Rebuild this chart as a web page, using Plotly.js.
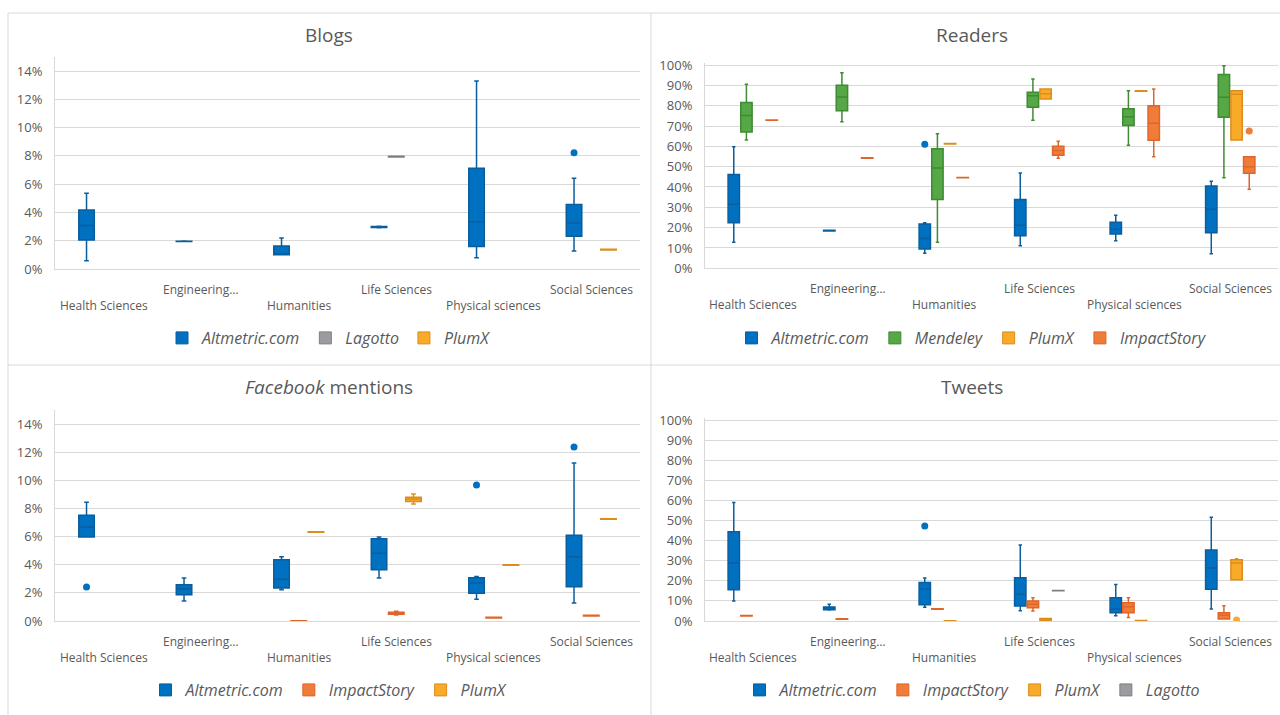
<!DOCTYPE html>
<html><head><meta charset="utf-8">
<script src="https://cdn.plot.ly/plotly-3.0.1.min.js"></script>
<style>html,body{margin:0;padding:0;background:#fff;}#chart{width:1280px;height:715px;}</style>
</head><body><div id="chart"></div>
<script>
// ---------- DATA (values in %) ----------
const categories = ["Health Sciences", "Engineering…", "Humanities", "Life Sciences", "Physical sciences", "Social Sciences"];
const panelTitles = ["Blogs", "Readers", "<i>Facebook</i> mentions", "Tweets"];
// each row: [lower whisker, Q1, median, Q3, upper whisker]; null = no box
// --- Blogs ---
const blogsAltmetric = [[0.59,2.05,3.07,4.18,5.36],[1.94,1.95,1.96,1.97,1.98],[1.0,1.0,1.05,1.63,2.2],[2.92,2.93,2.97,3.01,3.02],[0.8,1.6,3.35,7.13,13.3],[1.28,2.31,3.26,4.56,6.42]];
const blogsAltmetricOut = [[],[],[],[],[],[8.22]];
const blogsLagotto = [null,null,null,[7.93,7.93,7.95,7.97,7.97],null,null];
const blogsPlumX = [null,null,null,null,null,[1.35,1.35,1.37,1.39,1.39]];
// --- Readers ---
const readersAltmetric = [[12.8,22.4,31.5,46.2,59.8],[18.3,18.3,18.5,18.7,18.7],[7.4,9.5,14.6,21.8,22.4],[11.1,16,21.2,33.9,46.9],[13.6,16.9,19.2,22.6,26.1],[7.2,17.5,29,40.5,42.8]];
const readersAltmetricOut = [[],[],[61],[],[],[]];
const readersMendeley = [[63.1,67,75.2,81.6,90.6],[72.1,77.5,84.3,90,96.2],[12.8,33.9,49.3,58.8,66.2],[72.8,79.2,84.9,86.6,93.1],[60.5,70.3,74.6,78.5,87.4],[44.6,74.3,84.1,95.4,99.7]];
const readersPlumX = [null,null,[61.2,61.2,61.3,61.4,61.4],[83.3,83.3,85.9,88.2,88.2],[87.1,87.1,87.2,87.3,87.3],[63.1,63.1,85.6,87.4,87.4]];
const readersImpactStory = [[72.8,72.8,72.9,73,73],[54.2,54.2,54.3,54.4,54.4],[44.5,44.5,44.6,44.7,44.7],[54.1,55.6,57.9,60,62.5],[54.9,63,71.3,80,88.2],[38.9,46.7,50,54.9,54.9]];
const readersImpactStoryOut = [[],[],[],[],[],[67.5]];
// --- Facebook mentions ---
const fbAltmetric = [[5.97,5.97,6.68,7.51,8.44],[1.42,1.87,2.3,2.58,3.06],[2.23,2.35,2.96,4.36,4.57],[3.06,3.65,4.81,5.85,5.97],[1.54,1.97,2.7,3.08,3.17],[1.28,2.44,4.57,6.09,11.23]];
const fbAltmetricOut = [[2.42],[],[],[],[9.67],[12.37]];
const fbImpactStory = [null,null,[0,0,0,0.02,0.02],[0.42,0.48,0.55,0.62,0.7],[0.22,0.22,0.24,0.26,0.26],[0.36,0.36,0.38,0.4,0.4]];
const fbPlumX = [null,null,[6.31,6.31,6.33,6.35,6.35],[8.32,8.5,8.67,8.79,9.03],[3.96,3.96,3.98,4.0,4.0],[7.23,7.23,7.25,7.27,7.27]];
// --- Tweets ---
const twAltmetric = [[10,15.6,28.9,44.4,59],[5.5,5.6,6.5,7,8.3],[6.8,8.1,15.9,19.1,21.4],[5.1,7.5,13.3,21.5,37.8],[2.6,4.1,6,11.6,18.2],[6,15.8,26.4,35.3,51.6]];
const twAltmetricOut = [[],[],[47.3],[],[],[]];
const twImpactStory = [[2.5,2.5,2.6,2.7,2.7],[0.9,0.9,1,1.1,1.1],[5.9,5.9,6,6.1,6.1],[5,6.6,8.3,10,11.6],[1.8,4.1,7.1,9.1,11.6],[1,1,2.8,4.1,7.6]];
const twPlumX = [null,null,[0,0,0,0.1,0.1],[0.3,0.4,0.8,1.2,1.2],[0,0,0.1,0.2,0.2],[20.5,20.5,28.9,30.5,31]];
const twPlumXOut = [[],[],[],[],[],[0.5]];
const twLagotto = [null,null,null,[15,15,15.1,15.2,15.2],null,null];

// ---------- STYLE ----------
const COLORS = {
  Altmetric: {fill:"#0070C0", line:"#0A5E9E"},
  Mendeley: {fill:"#55A845", line:"#3F8A33"},
  PlumX: {fill:"#F8AA28", line:"#DB8E1E"},
  ImpactStory: {fill:"#F07C3A", line:"#E0652A"},
  Lagotto: {fill:"#9A9C9F", line:"#7E8083"}
};
const W = 1280, H = 715;
const fx = px => px / W;
const fy = py => 1 - py / H;
const FONT = "Open Sans, Segoe UI, DejaVu Sans, sans-serif";
const TXT = "#595959";
const GRID = "#D9D9D9";

function boxTrace(name, rows, outliers, ax, slot, legend, color) {
  const x = [], lf = [], q1 = [], med = [], q3 = [], uf = [], pts = [];
  rows.forEach((r, i) => {
    if (!r) return;
    x.push(categories[i]); lf.push(r[0]); q1.push(r[1]); med.push(r[2]); q3.push(r[3]); uf.push(r[4]);
    // sample points per box: outliers only (median placeholder is inside the fences, so never drawn)
    pts.push(outliers && outliers[i] && outliers[i].length ? outliers[i] : [r[2]]);
  });
  const t = {
    type: "box", name: name, x: x, showlegend: false,
    lowerfence: lf, q1: q1, median: med, q3: q3, upperfence: uf,
    orientation: "v", jitter: 0, pointpos: 0,
    alignmentgroup: "panel" + ax, offsetgroup: "s" + slot,
    xaxis: "x" + ax, yaxis: "y" + ax, legend: legend,
    fillcolor: color.fill, line: {color: color.line, width: 1.5},
    marker: {color: color.fill, size: 7, line: {width: 0}},
    whiskerwidth: 0.3, hoverinfo: "skip"
  };
  if (outliers) { t.y = pts; t.boxpoints = "outliers"; } else { t.boxpoints = false; }
  return t;
}
// legend-only square swatch (draws no mark)
function legendKey(name, ax, legend, color) {
  return {type: "scatter", mode: "markers", name: name, x: [null], y: [null],
    xaxis: "x" + ax, yaxis: "y" + ax, legend: legend, showlegend: true, hoverinfo: "skip",
    marker: {symbol: "square", size: 12, color: color.fill, line: {color: color.line, width: 1}}};
}

const panelSeries = [
  {ax:"", legend:"legend", series:[
    ["Altmetric.com", blogsAltmetric, blogsAltmetricOut, COLORS.Altmetric],
    ["Lagotto", blogsLagotto, null, COLORS.Lagotto],
    ["PlumX", blogsPlumX, null, COLORS.PlumX]]},
  {ax:"2", legend:"legend2", series:[
    ["Altmetric.com", readersAltmetric, readersAltmetricOut, COLORS.Altmetric],
    ["Mendeley", readersMendeley, null, COLORS.Mendeley],
    ["PlumX", readersPlumX, null, COLORS.PlumX],
    ["ImpactStory", readersImpactStory, readersImpactStoryOut, COLORS.ImpactStory]]},
  {ax:"3", legend:"legend3", series:[
    ["Altmetric.com", fbAltmetric, fbAltmetricOut, COLORS.Altmetric],
    ["ImpactStory", fbImpactStory, null, COLORS.ImpactStory],
    ["PlumX", fbPlumX, null, COLORS.PlumX]]},
  {ax:"4", legend:"legend4", series:[
    ["Altmetric.com", twAltmetric, twAltmetricOut, COLORS.Altmetric],
    ["ImpactStory", twImpactStory, null, COLORS.ImpactStory],
    ["PlumX", twPlumX, twPlumXOut, COLORS.PlumX],
    ["Lagotto", twLagotto, null, COLORS.Lagotto]]}
];

const traces = [];
panelSeries.forEach(ps => {
  ps.series.forEach((s, j) => traces.push(boxTrace(s[0], s[1], s[2], ps.ax, j, ps.legend, s[3])));
  ps.series.forEach(s => traces.push(legendKey(s[0], ps.ax, ps.legend, s[3])));
});

const panels = [
  {ax:"", xl:55, xr:640, yb:269, yt:57, max:15, dtick:2, cx:329, ty:35, ly:338},
  {ax:"2", xl:705, xr:1278, yb:268.3, yt:63, max:101, dtick:10, cx:972, ty:35, ly:338},
  {ax:"3", xl:55, xr:640, yb:621, yt:410, max:15, dtick:2, cx:329, ty:387, ly:690},
  {ax:"4", xl:705, xr:1278, yb:621, yt:418, max:101, dtick:10, cx:972, ty:387, ly:690}
];

const layout = {
  width: W, height: H,
  margin: {l:0, r:0, t:0, b:0},
  paper_bgcolor: "#fff", plot_bgcolor: "#fff",
  font: {family: FONT, color: TXT},
  boxmode: "group", boxgap: 0.47, boxgroupgap: 0.1,
  hovermode: false, showlegend: true,
  annotations: [], shapes: []
};

panels.forEach((p, k) => {
  const legName = k === 0 ? "legend" : "legend" + (k + 1);
  layout["xaxis" + p.ax] = {
    domain: [fx(p.xl), fx(p.xr)], anchor: "y" + p.ax, type: "category",
    categoryorder: "array", categoryarray: categories, range: [-0.5, 5.5],
    showticklabels: false, showgrid: false, zeroline: false,
    showline: true, linecolor: GRID, linewidth: 1, ticks: "", fixedrange: true
  };
  layout["yaxis" + p.ax] = {
    domain: [fy(p.yb), fy(p.yt)], anchor: "x" + p.ax, range: [0, p.max],
    tick0: 0, dtick: p.dtick, ticksuffix: "%", showgrid: true, gridcolor: GRID, gridwidth: 1,
    zeroline: false, showline: true, linecolor: GRID, linewidth: 1, ticks: "",
    ticklabelstandoff: 9, tickfont: {family: FONT, size: 13, color: TXT}, fixedrange: true
  };
  layout[legName] = {
    orientation: "h", x: fx(p.cx), xanchor: "center", y: fy(p.ly), yanchor: "middle",
    font: {family: FONT, size: 16, color: TXT, style: "italic"},
    bgcolor: "rgba(0,0,0,0)", traceorder: "normal"
  };
  layout.annotations.push({
    xref: "paper", yref: "paper", x: fx(p.cx), y: fy(p.ty), xanchor: "center", yanchor: "middle",
    text: panelTitles[k], showarrow: false, font: {family: FONT, size: 19, color: TXT}
  });
  categories.forEach((c, i) => {
    layout.annotations.push({
      xref: "x" + p.ax, yref: "paper", x: c, y: fy(p.yb), yanchor: "middle", xanchor: "center",
      yshift: i % 2 === 0 ? -36 : -20, text: c, showarrow: false,
      font: {family: FONT, size: 12, color: TXT}
    });
  });
});

const frame = [[8,13,1280,13],[8,13,8,715],[651,13,651,715],[8,365,1280,365]];
frame.forEach(f => layout.shapes.push({
  type: "line", xref: "paper", yref: "paper",
  x0: fx(f[0]), y0: fy(f[1]), x1: fx(f[2]), y1: fy(f[3]),
  line: {color: GRID, width: 1}
}));

Plotly.newPlot("chart", traces, layout, {displayModeBar: false, staticPlot: true});
</script></body></html>
